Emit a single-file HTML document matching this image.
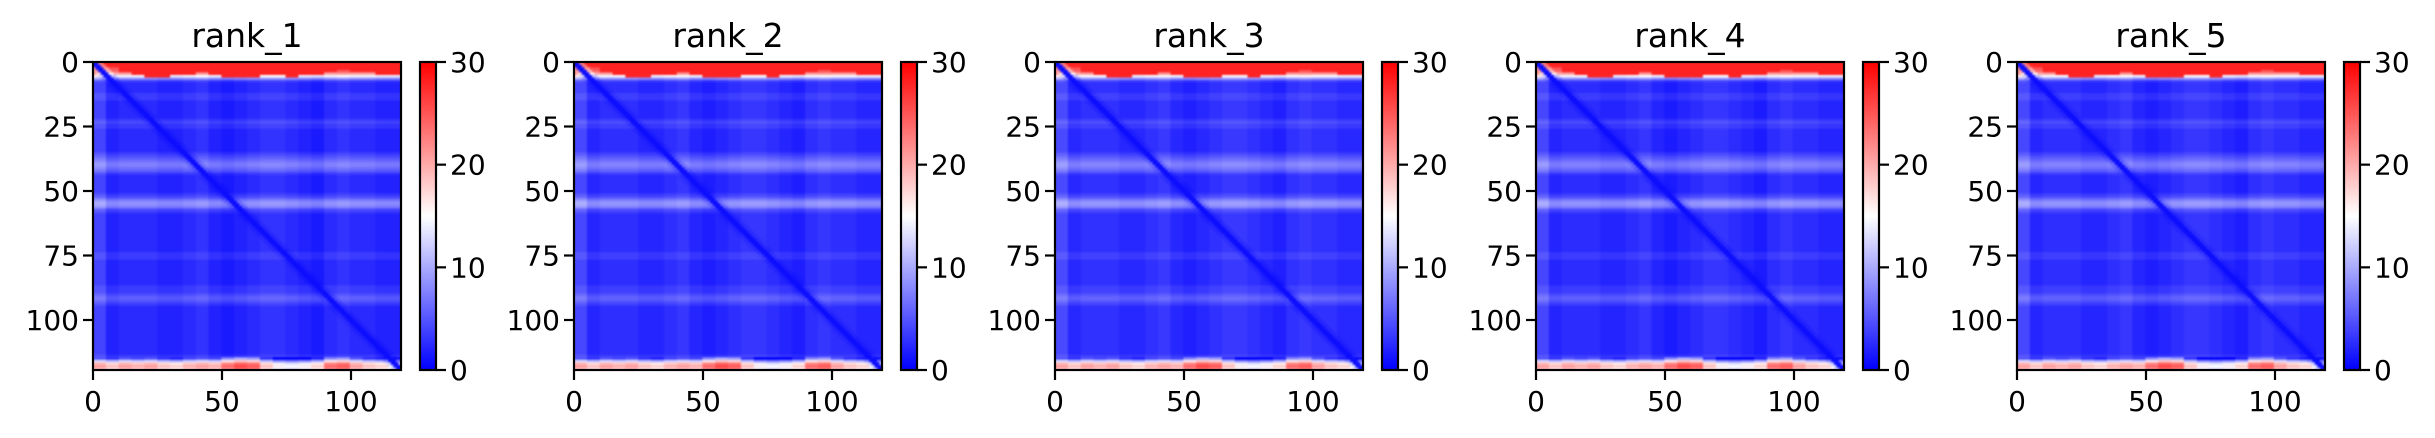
<!DOCTYPE html>
<html><head><meta charset="utf-8"><style>
html,body{margin:0;padding:0;background:#fff;}
body{width:2435px;height:438px;position:relative;overflow:hidden;font-family:"DejaVu Sans","Liberation Sans",sans-serif;}
</style></head><body>
<svg id="fig" width="2435" height="438" xmlns="http://www.w3.org/2000/svg" style="position:absolute;left:0;top:0"></svg>
<script>
// ---- data ----
const panelNames = ["rank_1","rank_2","rank_3","rank_4","rank_5"];
const panelOffset = [0, 0.2, 0.3, 0.1, 0.2];
const axisTicks = [0, 50, 100];
const yTicks = [0, 25, 50, 75, 100];
const cbarTicks = [0, 10, 20, 30];
const rowBase = [26,26,25,24,20,14, 8,3,2,2, 2,2,3,3,3,2, 2,2,2,2,2,2,3, 4,3,3,2,2,
 2,2,2,2,2,2,2,3, 4,5,6,7,7,6,5,3,2, 2,2,2,2,2,2,3,4, 6,8,8,7,4,3,2,
 2,2,2,2,2,2,2,2,2,2,2,2,2, 2,3,3,3,2,2,2, 2,2,2,2,2,2,2,3,3,3, 4,5,5,4,3,2,2,
 2,2,2,2,2,2,2,2,2,2,2,2,2,2,2,2,2,3, 5,13,19,21,19];
const colAdd = [2,0,0.5,0.5,0.5,0,0,0.5,1,0,-0.5,0,0.5,1,1,0.5,0,-0.5,0.5,1,0.5,0.5,0,0];
const topDepth = [0,2,4,5,6,6,5,5,4,5,6,6,6,5,5,6,5,5,4,3,4,4,5,5];
const bottomAdd = [0,-2,0,-1,0,-2,-3,-1,0,-1,3,5,4,-2,-5,-6,-5,-3,3,4,0,-2,-3,-4];
const N = 120, VMAX = 30;

const svg = document.getElementById('fig');
const NS = 'http://www.w3.org/2000/svg';
function mk(tag, attrs, parent){const e=document.createElementNS(NS,tag);for(const k in attrs)e.setAttribute(k,attrs[k]);(parent||svg).appendChild(e);return e;}
function bwr(v){let t=Math.max(0,Math.min(1,v/VMAX));let r,g,b;
 if(t<0.5){const s=t/0.5;r=255*s;g=255*s;b=255;}else{const s=(t-0.5)/0.5;r=255;g=255*(1-s);b=255*(1-s);}
 return [r,g,b];}
function value(i,j,p){
 const blk=Math.floor(j/5);
 let v;
 if(i<topDepth[blk] && j>i+3) v=28;
 else v=rowBase[i]+colAdd[blk]+panelOffset[p];
 if(i>=115) v=rowBase[i]+bottomAdd[blk];
 const d=Math.abs(i-j);
 if(d<=1) v=Math.min(v,0.8); else if(d<=3) v=Math.min(v,v*0.8);
 return v;}

const W=308, X0=93, Y0=62, STEP=481, SCALE=2.58;
const xs=v=>v*SCALE, ys=v=>v*SCALE;

const defs=mk('defs',{});
const grad=mk('linearGradient',{id:'bwr',x1:0,y1:1,x2:0,y2:0},defs);
[[0,'#0000ff'],[0.5,'#ffffff'],[1,'#ff0000']].forEach(s=>mk('stop',{offset:s[0],'stop-color':s[1]},grad));

panelNames.forEach((name,p)=>{
 const left=X0+p*STEP;
 const g=mk('g',{});
 
 
 const c=document.createElement('canvas');c.width=N;c.height=N;
 const ctx=c.getContext('2d');const img=ctx.createImageData(N,N);
 for(let i=0;i<N;i++)for(let j=0;j<N;j++){const [r,gg,b]=bwr(value(i,j,p));const k=(i*N+j)*4;img.data[k]=r;img.data[k+1]=gg;img.data[k+2]=b;img.data[k+3]=255;}
 ctx.putImageData(img,0,0);
 const big=document.createElement('canvas');big.width=W;big.height=W;
 const bc=big.getContext('2d');bc.imageSmoothingEnabled=true;bc.drawImage(c,0,0,W,W);
 const fo=mk('foreignObject',{x:left,y:Y0,width:W,height:W},g);
 
 
 big.style.display='block';fo.appendChild(big);
 mk('rect',{x:left,y:Y0,width:W,height:W,fill:'none',stroke:'#000','stroke-width':2.2},g);
 const t=mk('text',{x:left+W/2,y:47,'font-size':33,'text-anchor':'middle',fill:'#000'},g);t.textContent=name;
 
 axisTicks.forEach(v=>{const x=left+xs(v);
  mk('line',{x1:x,x2:x,y1:Y0+W,y2:Y0+W+10,stroke:'#000','stroke-width':2.2},g);
  const tt=mk('text',{x:x,y:Y0+W+41,'font-size':28,'text-anchor':'middle'},g);tt.textContent=v;
  });
 yTicks.forEach(v=>{const y=Y0+ys(v);
  mk('line',{x1:left-10,x2:left,y1:y,y2:y,stroke:'#000','stroke-width':2.2},g);
  const tt=mk('text',{x:left-14,y:y+10,'font-size':28,'text-anchor':'end'},g);tt.textContent=v;
  });
 const cx=left+327;
 const cb=mk('rect',{x:cx,y:Y0,width:16,height:W,fill:'url(#bwr)',stroke:'#000','stroke-width':2.2},g);
 
 cbarTicks.forEach(v=>{const y=Y0+W-v/VMAX*W;
  mk('line',{x1:cx+16,x2:cx+26,y1:y,y2:y,stroke:'#000','stroke-width':2.2},g);
  const tt=mk('text',{x:cx+30,y:y+10,'font-size':28},g);tt.textContent=v;
  });
});
</script>
</body></html>
